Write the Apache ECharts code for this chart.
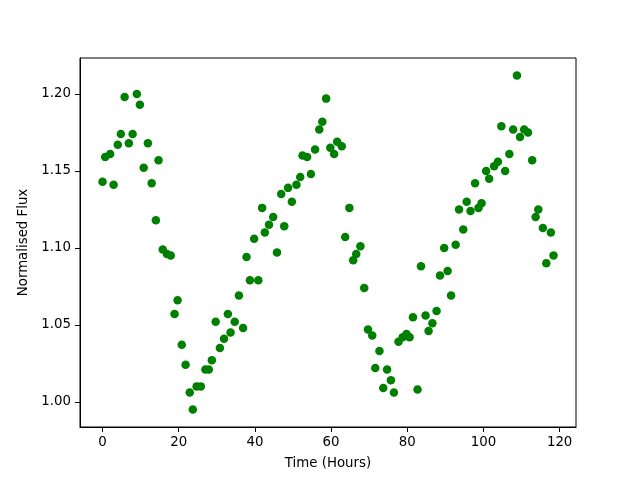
<!DOCTYPE html>
<head>
  <meta charset="utf-8">
  <title>Normalised Flux vs Time</title>
  <script src="https://cdn.jsdelivr.net/npm/echarts@6/dist/echarts.min.js"></script>
  <style>
    body { margin: 0; background: #fff; }
  </style>
</head>
<body>
  <div id="main" style="width: 640px;height:480px;"></div>
  <script>
    // values
    var timeHours = [
      0.0, 0.7, 2.0, 2.9, 4.0, 4.8, 5.8, 6.9, 7.9, 9.0,
      9.8, 10.8, 11.9, 12.9, 14.0, 14.7, 15.8, 16.9, 17.9, 18.9,
      19.7, 20.8, 21.8, 22.9, 23.7, 24.7, 25.8, 27.0, 27.9, 28.7,
      29.7, 30.8, 31.9, 32.9, 33.6, 34.7, 35.8, 36.9, 37.8, 38.7,
      39.8, 40.9, 41.9, 42.6, 43.7, 44.8, 45.8, 46.9, 47.7, 48.7,
      49.7, 50.9, 51.9, 52.5, 53.7, 54.7, 55.8, 56.9, 57.7, 58.7,
      59.8, 60.8, 61.6, 62.8, 63.7, 64.8, 65.8, 66.6, 67.7, 68.7,
      69.7, 70.8, 71.6, 72.7, 73.7, 74.7, 75.7, 76.5, 77.7, 78.8,
      79.8, 80.6, 81.5, 82.7, 83.6, 84.8, 85.6, 86.6, 87.7, 88.6,
      89.7, 90.6, 91.5, 92.7, 93.6, 94.7, 95.6, 96.6, 97.8, 98.7,
      99.5, 100.7, 101.5, 102.8, 103.8, 104.7, 105.7, 106.8, 107.8, 108.8,
      109.6, 110.7, 111.7, 112.8, 113.7, 114.4, 115.6, 116.5, 117.7, 118.4
    ];
    var flux = [
      1.143, 1.159, 1.161, 1.141, 1.167, 1.174, 1.198, 1.168, 1.174, 1.200,
      1.193, 1.152, 1.168, 1.142, 1.118, 1.157, 1.099, 1.096, 1.095, 1.057,
      1.066, 1.037, 1.024, 1.006, 0.995, 1.010, 1.010, 1.021, 1.021, 1.027,
      1.052, 1.035, 1.041, 1.057, 1.045, 1.052, 1.069, 1.048, 1.094, 1.079,
      1.106, 1.079, 1.126, 1.110, 1.115, 1.120, 1.097, 1.135, 1.114, 1.139,
      1.130, 1.141, 1.146, 1.160, 1.159, 1.148, 1.164, 1.177, 1.182, 1.197,
      1.165, 1.161, 1.169, 1.166, 1.107, 1.126, 1.092, 1.096, 1.101, 1.074,
      1.047, 1.043, 1.022, 1.033, 1.009, 1.021, 1.014, 1.006, 1.039, 1.042,
      1.044, 1.042, 1.055, 1.008, 1.088, 1.056, 1.046, 1.051, 1.059, 1.082,
      1.100, 1.085, 1.069, 1.102, 1.125, 1.112, 1.130, 1.124, 1.142, 1.126,
      1.129, 1.150, 1.145, 1.153, 1.156, 1.179, 1.150, 1.161, 1.177, 1.212,
      1.172, 1.177, 1.175, 1.157, 1.120, 1.125, 1.113, 1.090, 1.110, 1.095
    ];
    var xTicks = [0, 20, 40, 60, 80, 100, 120];
    var yTicks = [1.00, 1.05, 1.10, 1.15, 1.20];

    var points = timeHours.map(function(t, i) { return [t, flux[i]]; });

    var myChart = echarts.init(document.getElementById('main'));
    var font = 'DejaVu Sans';

    option = {
      animation: false,
      grid: {
        left: 80, right: 64, top: 58, bottom: 53,
        show: true, borderColor: '#000', borderWidth: 1
      },
      xAxis: {
        type: 'value',
        min: -5.92,
        max: 124.3,
        name: 'Time (Hours)',
        nameLocation: 'middle',
        nameGap: 30,
        nameTextStyle: { color: '#000', fontFamily: font, fontSize: 13.33 },
        axisLine: { show: true, onZero: false, lineStyle: { color: '#000' } },
        axisTick: { show: true, length: 5, customValues: xTicks, lineStyle: { color: '#000' } },
        axisLabel: { customValues: xTicks, color: '#000', fontFamily: font, fontSize: 13.33, margin: 9 },
        splitLine: { show: false }
      },
      yAxis: {
        type: 'value',
        min: 0.9836,
        max: 1.2234,
        name: 'Normalised Flux',
        nameLocation: 'middle',
        nameGap: 46,
        nameTextStyle: { color: '#000', fontFamily: font, fontSize: 13.33 },
        axisLine: { show: true, onZero: false, lineStyle: { color: '#000' } },
        axisTick: { show: true, length: 5, customValues: yTicks, lineStyle: { color: '#000' } },
        axisLabel: {
          customValues: yTicks, color: '#000', fontFamily: font, fontSize: 13.33, margin: 9,
          formatter: function(v) { return v.toFixed(2); }
        },
        splitLine: { show: false }
      },
      series: [{
        type: 'scatter',
        data: points,
        symbol: 'circle',
        symbolSize: 8.5,
        itemStyle: { color: '#008000', opacity: 1 }
      }]
    };

    myChart.setOption(option);
  </script>
</body>
